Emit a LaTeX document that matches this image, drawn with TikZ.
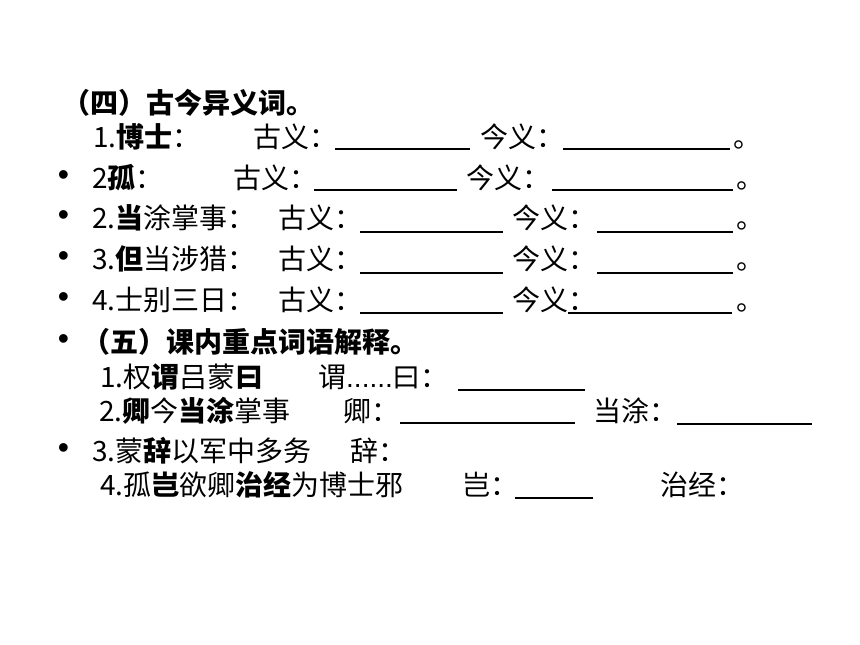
\documentclass[tikz,border=0pt]{standalone}
\usepackage{fontspec}
\setmainfont{Noto Sans CJK SC}
\newfontfamily\arial{Liberation Sans}
\usepackage{tikz}

\begin{document}
\begin{tikzpicture}[x=1pt,y=-1pt,
  every node/.style={anchor=west,inner sep=0pt,text height=24.6pt,text depth=3.4pt,font=\fontsize{28}{34}\selectfont},
  dotitem/.style={anchor=center,text height=,text depth=,font=\arial\fontsize{32}{36}\selectfont},
  blank/.style={line width=1.5pt}]

\useasboundingbox[fill=white] (0,0) rectangle (860,645);

\node (Head4) at (62,103) {\textbf{（四）古今异义词。}};

\node (Boshi) at (93,137) {1.\textbf{博士}：};
\node (Gu2) at (253,137) {古义：};
\draw[blank] (335,149) -- (470,149);
\node (Jin2) at (480,137) {今义：};
\draw[blank] (563,149) -- (730,149);
\node (End2) at (733,137) {。};

\node (Dot3) at (63.5,178) [dotitem] {•};
\node (Gu) at (92,178) {2\textbf{孤}：};
\node (Gu3) at (233,178) {古义：};
\draw[blank] (314,190) -- (457,190);
\node (Jin3) at (466,178) {今义：};
\draw[blank] (552,190) -- (733,190);
\node (End3) at (736,178) {。};

\node (Dot4) at (63.5,218) [dotitem] {•};
\node (Dangtu) at (92,218) {2.\textbf{当}涂掌事：};
\node (Gu4) at (278,218) {古义：};
\draw[blank] (360,232) -- (503,232);
\node (Jin4) at (512,218) {今义：};
\draw[blank] (597,232) -- (733,232);
\node (End4) at (736,218) {。};

\node (Dot5) at (63.5,259) [dotitem] {•};
\node (Danshe) at (92,259) {3.\textbf{但}当涉猎：};
\node (Gu5) at (278,259) {古义：};
\draw[blank] (360,273) -- (503,273);
\node (Jin5) at (512,259) {今义：};
\draw[blank] (597,273) -- (733,273);
\node (End5) at (736,259) {。};

\node (Dot6) at (63.5,300) [dotitem] {•};
\node (Shibie) at (92,300) {4.士别三日：};
\node (Gu6) at (278,300) {古义：};
\draw[blank] (360,313) -- (503,313);
\node (Jin6) at (512,300) {今义：};
\draw[blank] (568,313) -- (732,313);
\node (End6) at (736,300) {。};

\node (Dot7) at (63.5,342) [dotitem] {•};
\node (Head5) at (82,342) {\textbf{（五）课内重点词语解释。}};

\node (Quan) at (100,377) {1.权\textbf{谓}吕蒙\textbf{曰}};
\node (Wei) at (318,377) {谓{\arial ......}曰：};
\draw[blank] (458,390) -- (585,390);

\node (Qing) at (99,411) {2.\textbf{卿}今\textbf{当涂}掌事};
\node (QingA) at (343,411) {卿：};
\draw[blank] (400,423) -- (575,423);
\node (DangtuA) at (593,411) {当涂：};
\draw[blank] (677,424) -- (812,424);

\node (Dot10) at (63.5,451) [dotitem] {•};
\node (Meng) at (92,451) {3.蒙\textbf{辞}以军中多务};
\node (Ci) at (350,451) {辞：};

\node (Gujun) at (100,485) {4.孤\textbf{岂}欲卿\textbf{治经}为博士邪};
\node (Qi) at (462,485) {岂：};
\draw[blank] (515,498) -- (593,498);
\node (Zhijing) at (660,485) {治经：};

\end{tikzpicture}
\end{document}
